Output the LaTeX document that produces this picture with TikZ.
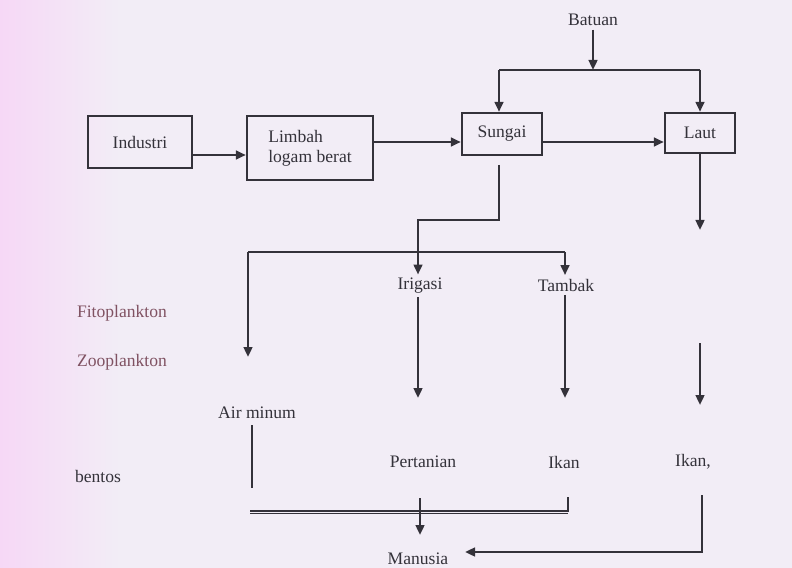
\documentclass[tikz,border=0pt]{standalone}
\usepackage{fontspec}
\setmainfont{Liberation Serif}
\usetikzlibrary{arrows.meta, positioning, calc}
\definecolor{ink}{RGB}{52,50,58}
\definecolor{paperl}{RGB}{246,216,246}
\definecolor{paperr}{RGB}{242,237,246}
\definecolor{plank}{RGB}{128,82,98}

\begin{document}
\begin{tikzpicture}[x=0.03cm, y=-0.03cm,
    font=\fontsize{15}{17}\selectfont,
    box/.style={draw=ink, line width=2pt, text=ink, inner sep=2pt},
    lbl/.style={text=ink, inner sep=3pt},
    conn/.style={draw=ink, line width=2pt},
    arr/.style={conn, -{Triangle[length=0.3cm, width=0.26cm]}}]
    % kertas
    \fill[paperr] (0,0) rectangle (792,568);
    \shade[left color=paperl, right color=paperr] (0,0) rectangle (120,568);
    \useasboundingbox (0,0) rectangle (792,568);

    % kotak utama
    \node[box, minimum width=3.12cm, minimum height=1.56cm] (industri) at (140,142) {Industri\hspace{0.4cm}};
    \node[box, minimum width=3.78cm, minimum height=1.92cm, align=left] (limbah) at (310,148) {Limbah\\logam berat\hspace{0.3cm}};
    \node[box, minimum width=2.4cm, minimum height=1.26cm] (sungai) at (502,134) {Sungai};
    \node[box, minimum width=2.1cm, minimum height=1.2cm] (laut) at (700,133) {Laut};

    % label
    \node[lbl] (batuan) at (593,20) {Batuan};
    \node[lbl] (irigasi) at (420,286) {Irigasi};
    \node[lbl] (tambak) at (566,285) {Tambak};
    \node[lbl, text=plank] (fito) at (122,313) {Fitoplankton};
    \node[lbl, text=plank] (zoo) at (122,362) {Zooplankton};
    \node[lbl] (airminum) at (257,413) {Air minum};
    \node[lbl] (bentos) at (98,476) {bentos};
    \node[lbl] (pertanian) at (423,462) {Pertanian};
    \node[lbl] (ikan) at (564,462) {Ikan};
    \node[lbl] (ikanlaut) at (693,462) {Ikan,};
    \node[lbl] (manusia) at (418,559) {Manusia};

    % batuan
    \coordinate (bl) at (499,70);
    \coordinate (br) at (700,70);
    \draw[arr] (batuan) -- (batuan |- bl);
    \draw[conn] (bl) -- (br);
    \draw[arr] (bl) -- (bl |- sungai.north);
    \draw[arr] (br) -- (laut.north);

    % alur utama
    \draw[arr] (industri.east |- 0,155) -- (limbah.west |- 0,155);
    \draw[arr] (limbah.east |- 0,142) -- (sungai.west |- 0,142);
    \draw[arr] (sungai.east |- 0,142) -- (laut.west |- 0,142);

    % dari sungai
    \coordinate (s1) at (499,165);
    \coordinate (s2) at (499,220);
    \coordinate (s3) at (418,220);
    \draw[arr] (s1) -- (s2) -- (s3) -- (s3 |- irigasi.north);
    \coordinate (t1) at (248,252);
    \coordinate (t2) at (565,252);
    \coordinate (z1) at (248,357);
    \draw[conn, line width=1.2pt] (t1) -- (t2);
    \draw[arr] (t2) -- (t2 |- tambak.north);
    \draw[arr] (t1) -- (z1);

    % ke bawah
    \coordinate (ir1) at (418,398);
    \coordinate (tb1) at (565,398);
    \coordinate (l1) at (700,230);
    \coordinate (l2) at (700,343);
    \coordinate (l3) at (700,405);
    \draw[arr] (irigasi.south -| ir1) -- (ir1);
    \draw[arr] (tambak.south -| tb1) -- (tb1);
    \draw[arr] (laut.south) -- (l1);
    \draw[arr] (l2) -- (l3);

    % ke manusia
    \coordinate (a1) at (252,425);
    \coordinate (a2) at (252,488);
    \draw[conn] (a1) -- (a2);
    \coordinate (d1) at (250,512);
    \coordinate (d2) at (568,512);
    \coordinate (d3) at (568,497);
    \draw[draw=ink, line width=1.1pt, double=paperr, double distance=0.8pt] (d1) -- (d2);
    \draw[conn] (d2) -- (d3);
    \coordinate (p1) at (420,498);
    \coordinate (p2) at (420,535);
    \draw[arr] (p1) -- (p2);
    \coordinate (k1) at (702,495);
    \coordinate (k2) at (702,552);
    \coordinate (k3) at (465,552);
    \draw[arr] (k1) -- (k2) -- (k3);
\end{tikzpicture}
\end{document}
